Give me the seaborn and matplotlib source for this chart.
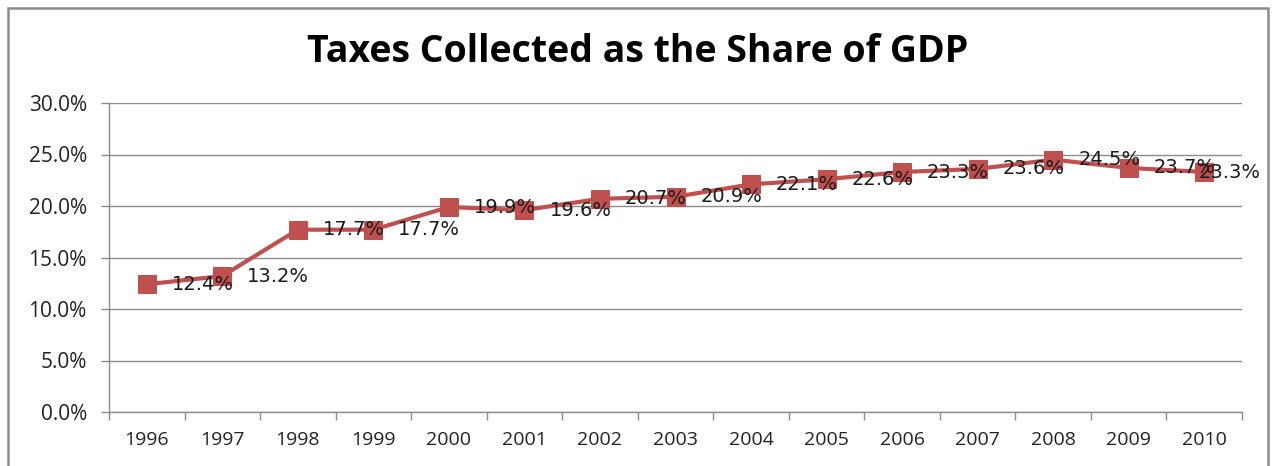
import matplotlib
matplotlib.use("Agg")
import matplotlib.pyplot as plt
import seaborn as sns
import pandas as pd
from matplotlib.patches import Rectangle
from matplotlib.ticker import FixedLocator, FuncFormatter

years = ["1996", "1997", "1998", "1999", "2000", "2001", "2002", "2003",
         "2004", "2005", "2006", "2007", "2008", "2009", "2010"]
share = [12.4, 13.2, 17.7, 17.7, 19.9, 19.6, 20.7, 20.9,
         22.1, 22.6, 23.3, 23.6, 24.5, 23.7, 23.3]
title = "Taxes Collected as the Share of GDP"

df = pd.DataFrame({"pos": range(len(years)), "year": years, "share": share})

sns.set_theme(style="white")
plt.rcParams['font.family'] = ['Open Sans', 'DejaVu Sans']

fig = plt.figure(figsize=(12.76, 4.66), dpi=100)
ax = fig.add_axes([109/1276, 1-412/466, (1242-109)/1276, (412-103)/466])

red = "#C0504D"
sns.lineplot(data=df, x="pos", y="share", ax=ax, color=red, linewidth=3,
             marker="s", markersize=13, markeredgecolor=red, markerfacecolor=red)

n = len(years)
for x, v in zip(df["pos"], share):
    dx = 18 if x < n - 1 else -4
    ax.annotate(f"{v:.1f}%", (x, v), xytext=(dx, 0), textcoords="offset points",
                ha="left", va="center", fontsize=14, color="#1a1a1a",
                family="DejaVu Sans", zorder=5, annotation_clip=False)

ax.set_xlim(-0.5, n - 0.5)
ax.set_ylim(0, 30)
ax.set_yticks([0, 5, 10, 15, 20, 25, 30])
ax.yaxis.set_major_formatter(FuncFormatter(lambda v, p: f"{v:.1f}%"))
ax.set_xticks(range(n))
ax.set_xticklabels(years)
ax.xaxis.set_minor_locator(FixedLocator([i - 0.5 for i in range(n + 1)]))
ax.tick_params(axis="x", which="major", length=0, pad=14, labelsize=14, labelcolor="#222222")
ax.tick_params(axis="x", which="minor", length=6, width=1, color="#8c8c8c", bottom=True)
ax.tick_params(axis="y", which="major", length=6, width=1, color="#8c8c8c", left=True,
               labelsize=15, labelcolor="#222222", pad=10)
ax.yaxis.grid(True, color="#8c8c8c", linewidth=1)
ax.set_axisbelow(True)
ax.set_xlabel("")
ax.set_ylabel("")
for s in ["top", "right"]:
    ax.spines[s].set_visible(False)
for s in ["left", "bottom"]:
    ax.spines[s].set_color("#8c8c8c")
    ax.spines[s].set_linewidth(1)

fig.text(0.5, 1-52/466, title, ha="center", va="center", fontsize=27,
         fontweight="bold", color="#000000")

fig.patches.append(Rectangle((8/1276, -0.1), (1268-8)/1276, 1.1 - 8/466,
                             transform=fig.transFigure, fill=False,
                             edgecolor="#8c8c8c", linewidth=1.8, clip_on=False))

fig.savefig("out.png", dpi=100)
